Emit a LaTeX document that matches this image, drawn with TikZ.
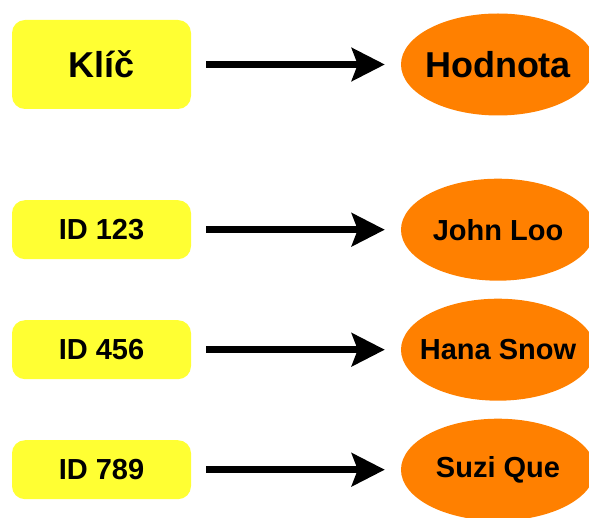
\documentclass[tikz,border=0pt]{standalone}
\usepackage{fontspec}
\setmainfont{Liberation Sans}
\usetikzlibrary{shapes.geometric,arrows.meta}
\definecolor{keyyellow}{HTML}{FFFF33}
\definecolor{valorange}{HTML}{FF8000}
\tikzset{
  keybox/.style={rectangle, rounded corners=13pt, fill=keyyellow, draw=none,
    minimum width=179pt, inner sep=0pt, font=\bfseries\fontsize{29}{29}\selectfont},
  valell/.style={ellipse, fill=valorange, draw=none, minimum width=194pt,
    minimum height=102pt, inner sep=0pt, font=\bfseries\fontsize{29}{29}\selectfont},
  conn/.style={line width=7pt, -{Stealth[length=33pt,width=33pt,inset=6pt]},
    shorten <=15pt, shorten >=16pt},
}
\begin{document}
\begin{tikzpicture}[x=1pt,y=1pt]
\useasboundingbox (0,0) rectangle (589,517);
\begin{scope}
\clip (0,0) rectangle (589,517);
\node[keybox, minimum height=89pt, font=\bfseries\fontsize{36}{36}\selectfont] (k0) at (101.5,452.5) {Klíč};
\node[valell, font=\bfseries\fontsize{36}{36}\selectfont] (v0) at (498,452.5) {\makebox[0pt]{Hodnota}};
\node[keybox, minimum height=59pt] (k1) at (101.5,287.3) {ID 123};
\node[valell] (v1) at (498,287.3) {\makebox[0pt]{John Loo}};
\node[keybox, minimum height=59pt] (k2) at (101.5,167.3) {ID 456};
\node[valell] (v2) at (498,167.3) {\makebox[0pt]{Hana Snow}};
\node[keybox, minimum height=59pt] (k3) at (101.5,47.3) {ID 789};
\node[valell] (v3) at (498,47.3) {\makebox[0pt]{Suzi Que}};
\draw[conn] (k0) -- (v0);
\draw[conn] (k1) -- (v1);
\draw[conn] (k2) -- (v2);
\draw[conn] (k3) -- (v3);
\end{scope}
\end{tikzpicture}
\end{document}
